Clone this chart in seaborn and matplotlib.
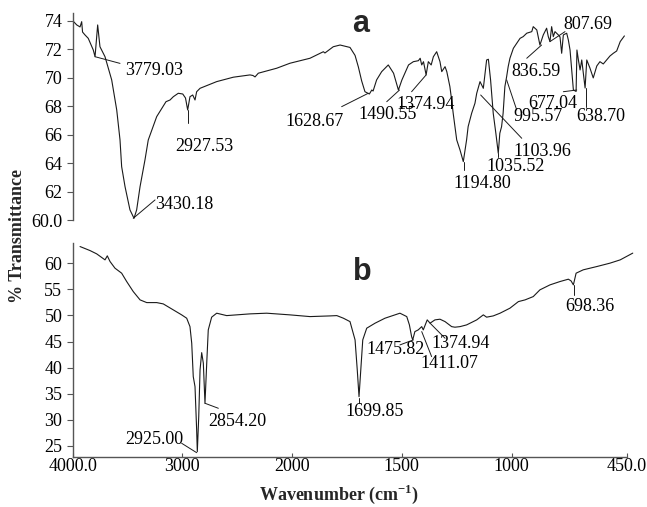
import numpy as np
import pandas as pd
import matplotlib
matplotlib.use("Agg")
import matplotlib.pyplot as plt
import seaborn as sns

# ---------------- data ----------------
# spectrum a : wavenumber (cm-1) and % transmittance
wn_a = [4000, 3963, 3933, 3918, 3910, 3888, 3858, 3812, 3796, 3772, 3751, 3705, 3644, 3598,
        3568, 3553, 3522, 3477, 3440, 3416, 3385, 3340, 3310, 3233, 3148, 3111, 3081, 3036,
        2995, 2970, 2950, 2929, 2904, 2883, 2868, 2837, 2685, 2533, 2381, 2354, 2335, 2305,
        2137, 2016, 1917, 1871, 1856, 1849, 1811, 1780, 1735, 1712, 1697, 1682, 1667, 1647,
        1636, 1630, 1614, 1591, 1561, 1537, 1515, 1499, 1469, 1447, 1424, 1416, 1409, 1401,
        1389, 1379, 1366, 1356, 1341, 1326, 1318, 1303, 1295, 1281, 1273, 1266, 1250, 1235,
        1220, 1205, 1198, 1182, 1167, 1159, 1144, 1129, 1114, 1106, 1096, 1084, 1072, 1061,
        1054, 1046, 1039, 1031, 1023, 1016, 1008, 992, 976, 960, 945, 928, 904, 897, 880,
        865, 849, 833, 825, 817, 809, 801, 793, 777, 769, 761, 753, 737, 729, 721, 705, 692,
        688, 681, 673, 665, 658, 649, 641, 626, 610, 593, 578, 562, 546, 530, 514, 498, 481,
        461]
tr_a = [74.0, 73.7, 73.56, 73.93, 73.2, 73.0, 72.76, 71.94, 71.47, 73.7, 72.17, 71.47, 69.84,
        67.73, 65.63, 63.75, 62.34, 60.71, 60.12, 60.71, 62.34, 64.22, 65.62, 67.26, 68.31,
        68.43, 68.66, 68.9, 68.85, 68.57, 67.73, 68.66, 68.78, 68.43, 69.01, 69.25, 69.72,
        70.03, 70.19, 70.15, 70.05, 70.31, 70.66, 71.01, 71.36, 71.71, 71.82, 71.73, 72.17,
        72.29, 72.12, 71.56, 70.75, 69.77, 69.01, 68.85, 69.13, 69.06, 69.84, 70.42, 70.89,
        70.31, 69.13, 69.84, 70.89, 71.12, 71.19, 71.36, 70.89, 71.12, 70.19, 71.12, 70.89,
        71.47, 71.82, 71.12, 70.42, 70.77, 70.42, 69.37, 68.43, 67.5, 65.63, 64.92, 64.1,
        65.63, 66.56, 67.5, 68.2, 68.9, 69.72, 69.25, 71.24, 71.29, 69.84, 67.5, 66.09, 64.69,
        66.09, 66.56, 67.5, 69.37, 70.07, 70.77, 71.36, 72.06, 72.41, 72.76, 72.88, 73.12,
        73.23, 73.58, 73.35, 72.29, 73.0, 73.47, 72.88, 72.53, 73.58, 72.88, 73.23, 73.0,
        72.86, 71.71, 73.0, 73.12, 72.64, 71.94, 69.13, 69.03, 71.94, 71.24, 70.54, 71.24,
        70.4, 69.27, 71.24, 70.68, 69.98, 70.82, 71.12, 70.96, 71.24, 71.52, 71.71, 71.87,
        72.53, 72.93]

# spectrum b
wn_b = [3933, 3842, 3781, 3705, 3684, 3659, 3614, 3553, 3507, 3447, 3385, 3324, 3233, 3173,
        3081, 3005, 2959, 2929, 2913, 2899, 2883, 2868, 2862, 2849, 2837, 2822, 2807, 2792,
        2776, 2762, 2731, 2685, 2594, 2381, 2228, 2016, 1917, 1826, 1795, 1765, 1735, 1712,
        1702, 1694, 1686, 1677, 1659, 1621, 1576, 1508, 1477, 1465, 1455, 1450, 1440, 1425,
        1409, 1402, 1384, 1371, 1349, 1326, 1303, 1273, 1258, 1235, 1205, 1159, 1129, 1114,
        1084, 1053, 1008, 968, 936, 897, 865, 817, 769, 729, 716, 705, 692, 658, 593, 530,
        481, 421]
tr_b = [63.18, 62.41, 61.78, 60.63, 61.4, 60.31, 59.04, 58.08, 56.48, 54.56, 52.97, 52.45,
        52.45, 52.2, 51.05, 50.1, 49.46, 47.85, 44.67, 38.28, 36.36, 28.07, 23.91, 30.61,
        39.56, 42.87, 40.84, 33.18, 40.84, 47.22, 49.66, 50.42, 49.96, 50.29, 50.42, 50.1,
        49.77, 49.9, 49.96, 49.46, 48.81, 45.31, 39.56, 34.44, 39.56, 45.31, 47.55, 48.51,
        49.46, 50.42, 49.77, 48.18, 45.94, 45.31, 46.9, 47.22, 47.85, 47.22, 49.14, 48.51,
        49.14, 49.27, 48.81, 47.85, 47.74, 47.85, 48.18, 49.14, 50.1, 49.66, 49.9, 50.42,
        51.38, 52.64, 52.97, 53.6, 54.89, 55.84, 56.48, 56.93, 56.6, 55.84, 58.08, 58.72,
        59.35, 60.0, 60.63, 61.92]

# peak labels
peaks_a = ["3779.03", "3430.18", "2927.53", "1628.67", "1490.55", "1374.94", "1194.80",
           "1035.52", "1103.96", "995.57", "836.59", "807.69", "677.04", "638.70"]
peaks_b = ["2925.00", "2854.20", "1699.85", "1475.82", "1411.07", "1374.94", "698.36"]

x_ticks = [4000, 3000, 2000, 1500, 1000, 450]
x_ticklabels = ["4000.0", "3000", "2000", "1500", "1000", "450.0"]
ya_ticks = [60, 62, 64, 66, 68, 70, 72, 74]
ya_ticklabels = ["60.0", "62", "64", "66", "68", "70", "72", "74"]
yb_ticks = [25, 30, 35, 40, 45, 50, 55, 60]
yb_ticklabels = ["25", "30", "35", "40", "45", "50", "55", "60"]

# ---------------- layout (label placement: text x, text y, ha, leader line) ----------------
lay_a = [
    (3522, 70.47, "left", (3796, 71.47, 3568, 71.0)),
    (3248, 61.06, "left", (3447, 60.12, 3248, 61.41)),
    (3064, 65.15, "left", (2950, 67.73, 2950, 66.8)),
    (1765, 66.91, "right", (1773, 67.96, 1652, 68.9)),
    (1697, 67.38, "left", (1568, 68.31, 1510, 69.13)),
    (1523, 68.08, "left", (1455, 69.01, 1389, 70.19)),
    (1133, 62.58, "center", (1216, 64.1, 1216, 63.52)),
    (1114, 63.75, "left", (1061, 64.69, 1061, 64.43)),
    (992, 64.8, "left", (1141, 68.78, 952, 65.74)),
    (992, 67.26, "left", (1023, 69.84, 976, 67.73)),
    (1000, 70.42, "left", (928, 71.36, 857, 72.29)),
    (753, 73.7, "left", (817, 72.53, 745, 73.23)),
    (921, 68.2, "left", (753, 69.01, 689, 69.13)),
    (689, 67.26, "left", (647, 69.25, 647, 67.96)),
]
lay_b = [
    (3522, 26.15, "left", (3005, 25.52, 2868, 23.72)),
    (2762, 29.66, "left", (2792, 33.18, 2670, 32.22)),
    (1621, 31.57, "center", (1694, 34.14, 1694, 33.24)),
    (1659, 43.39, "left", (1508, 44.35, 1447, 45.31)),
    (1417, 40.84, "left", (1409, 46.9, 1364, 42.11)),
    (1364, 44.67, "left", (1371, 48.51, 1303, 45.63)),
    (745, 51.69, "left", (702, 55.84, 702, 53.93)),
]

# ---------------- style ----------------
sns.set_style("ticks")
plt.rcParams["font.family"] = ["Liberation Serif", "DejaVu Serif"]
plt.rcParams["mathtext.fontset"] = "custom"
plt.rcParams["mathtext.rm"] = "Liberation Serif"
plt.rcParams["mathtext.bf"] = "Liberation Serif:bold"
FS = 13
SPINE = "#555555"
LINE = "#1a1a1a"

# piecewise-linear wavenumber axis (scale changes at 2000 and 1000 cm-1)
kw = np.array([450.0, 1000.0, 2000.0, 4000.0])
kp = np.array([0.0, 115.0, 335.0, 554.0])
s_lo = (kp[1] - kp[0]) / (kw[1] - kw[0])
s_hi = (kp[-1] - kp[-2]) / (kw[-1] - kw[-2])
kw_ext = np.concatenate([[kw[0] - 1e5], kw, [kw[-1] + 1e5]])
kp_ext = np.concatenate([[kp[0] - 1e5 * s_lo], kp, [kp[-1] + 1e5 * s_hi]])


def fwd(w):
    return np.interp(np.asarray(w, float), kw_ext, kp_ext)


def inv(p):
    return np.interp(np.asarray(p, float), kp_ext, kw_ext)


W, H = 647, 507
fig = plt.figure(figsize=(W / 100, H / 100), dpi=100)
ax1 = fig.add_axes([72.7 / W, 1 - 220 / H, 554 / W, 207.3 / H])
ax2 = fig.add_axes([72.7 / W, 1 - 456.7 / H, 554 / W, 213.4 / H])

df_a = pd.DataFrame({"wn": wn_a, "tr": tr_a})
df_b = pd.DataFrame({"wn": wn_b, "tr": tr_b})
sns.lineplot(data=df_a, x="wn", y="tr", ax=ax1, color=LINE, lw=0.8, sort=False,
             estimator=None)
sns.lineplot(data=df_b, x="wn", y="tr", ax=ax2, color=LINE, lw=0.8, sort=False,
             estimator=None)
for ln in ax2.lines:
    ln.set_clip_on(False)

for ax in (ax1, ax2):
    ax.set_xscale("function", functions=(fwd, inv))
    ax.set_xlim(4000, 450)
    ax.set_xlabel("")
    ax.set_ylabel("")
    for s in ("top", "right"):
        ax.spines[s].set_visible(False)
    for s in ("left", "bottom"):
        ax.spines[s].set_color(SPINE)
        ax.spines[s].set_linewidth(1.0)
    ax.tick_params(colors=SPINE, labelcolor="black", labelsize=FS, length=4, width=0.8)
    ax.patch.set_alpha(0)

ax1.spines["bottom"].set_visible(False)
ax1.set_xticks([])
ax1.xaxis.set_minor_locator(matplotlib.ticker.NullLocator())
ax1.set_ylim(60, 74.56)
ax1.set_yticks(ya_ticks)
ax1.set_yticklabels(ya_ticklabels)

ax2.set_ylim(22.95, 63.8)
ax2.set_yticks(yb_ticks)
ax2.set_yticklabels(yb_ticklabels)
ax2.set_xticks(x_ticks)
ax2.set_xticklabels(x_ticklabels)
ax2.xaxis.set_minor_locator(matplotlib.ticker.NullLocator())
ax2.tick_params(axis="x", direction="in", length=3, pad=1)


def annotate(ax, labels, layout):
    for lab, (tx, ty, ha, (x0, y0, x1, y1)) in zip(labels, layout):
        ax.plot([x0, x1], [y0, y1], color=LINE, lw=0.7, clip_on=False)
        ax.text(tx, ty, lab, ha=ha, va="center", fontsize=FS, color="black")


annotate(ax1, peaks_a, lay_a)
annotate(ax2, peaks_b, lay_b)

ax1.text(0.519, 0.945, "a", transform=ax1.transAxes, ha="center", va="center",
         fontsize=22, fontweight="bold", family=["Liberation Sans", "DejaVu Sans"])
ax2.text(0.522, 0.867, "b", transform=ax2.transAxes, ha="center", va="center",
         fontsize=22, fontweight="bold", family=["Liberation Sans", "DejaVu Sans"])

fig.text(18 / W, 1 - 236 / H, "% Transmittance", rotation=90, ha="center", va="center",
         fontsize=FS, fontweight="bold")
fig.text(339 / W, 1 - 494 / H, r"Wavenumber (cm$^{\mathbf{-1}}$)", ha="center",
         va="center", fontsize=FS, fontweight="bold")

fig.savefig("out.png", dpi=100)
